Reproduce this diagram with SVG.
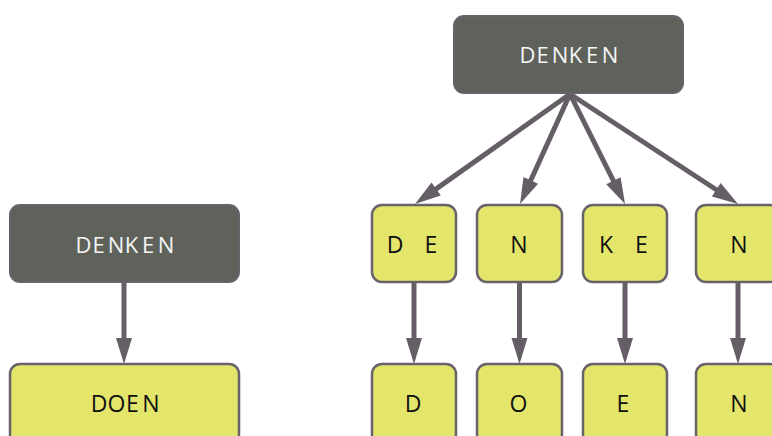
<svg xmlns="http://www.w3.org/2000/svg" width="772" height="436" viewBox="0 0 772 436">
<defs>
<style>
.dark{fill:#5e625b;stroke:#68626b;stroke-width:2}
.yel{fill:#e4e66b;stroke:#68626b;stroke-width:2.5}
.wt{fill:#f6f6f6;font-family:"Open Sans",sans-serif;font-size:22px;text-anchor:middle}
.bt{fill:#111;font-family:"Open Sans",sans-serif;font-size:23px;text-anchor:middle}
.conn line{stroke:#655e66;stroke-width:5;marker-end:url(#ah)}
</style>
<marker id="ah" markerUnits="userSpaceOnUse" viewBox="-7 -9 28 18" markerWidth="28" markerHeight="18" refX="0" refY="0" orient="auto">
<path d="M-6,-8 L20,0 L-6,8 z" fill="#655e66"/>
</marker>
</defs>
<rect width="772" height="436" fill="#fff"/>
<g id="n-top">
<rect class="dark" x="454" y="16" width="229" height="77" rx="10"/>
<text class="wt" y="63"><tspan x="527.5">D</tspan><tspan x="542.5">E</tspan><tspan x="560">N</tspan><tspan x="575.5">K</tspan><tspan x="592">E</tspan><tspan x="610">N</tspan></text>
</g>
<g id="n-left">
<rect class="dark" x="10" y="205" width="229" height="77" rx="10"/>
<text class="wt" y="253"><tspan x="83.5">D</tspan><tspan x="98.5">E</tspan><tspan x="116">N</tspan><tspan x="131.5">K</tspan><tspan x="148">E</tspan><tspan x="166">N</tspan></text>
</g>
<g id="n-doen">
<rect class="yel" x="10" y="364" width="229" height="80" rx="10"/>
<text class="bt" y="412"><tspan x="99">D</tspan><tspan x="116.5">O</tspan><tspan x="132.5">E</tspan><tspan x="151">N</tspan></text>
</g>
<g id="n-de">
<rect class="yel" x="372" y="205" width="84" height="77" rx="10"/>
<text class="bt" y="252.5"><tspan x="395">D</tspan><tspan x="431">E</tspan></text>
</g>
<g id="n-n1">
<rect class="yel" x="477" y="205" width="85" height="77" rx="10"/>
<text class="bt" x="519" y="252.5">N</text>
</g>
<g id="n-ke">
<rect class="yel" x="583" y="205" width="84" height="77" rx="10"/>
<text class="bt" y="252.5"><tspan x="606">K</tspan><tspan x="641.5">E</tspan></text>
</g>
<g id="n-n2">
<rect class="yel" x="696" y="205" width="84" height="77" rx="10"/>
<text class="bt" x="739" y="252.5">N</text>
</g>
<g id="n-d">
<rect class="yel" x="372" y="364" width="84" height="80" rx="10"/>
<text class="bt" x="413" y="412">D</text>
</g>
<g id="n-o">
<rect class="yel" x="477" y="364" width="85" height="80" rx="10"/>
<text class="bt" x="518.5" y="412">O</text>
</g>
<g id="n-e">
<rect class="yel" x="583" y="364" width="84" height="80" rx="10"/>
<text class="bt" x="623" y="412">E</text>
</g>
<g id="n-n3">
<rect class="yel" x="696" y="364" width="84" height="80" rx="10"/>
<text class="bt" x="739" y="412">N</text>
</g>
<g id="connectors" class="conn">
<line x1="570" y1="94" x2="431.3" y2="192.4"/>
<line x1="570" y1="94" x2="528.3" y2="185.8"/>
<line x1="570" y1="94" x2="616.1" y2="186.1"/>
<line x1="570" y1="94" x2="721.3" y2="193.0"/>
<line x1="124" y1="283" x2="124" y2="344"/>
<line x1="414" y1="283" x2="414" y2="344"/>
<line x1="519.5" y1="283" x2="519.5" y2="344"/>
<line x1="625" y1="283" x2="625" y2="344"/>
<line x1="738" y1="283" x2="738" y2="344"/>
</g>
</svg>
